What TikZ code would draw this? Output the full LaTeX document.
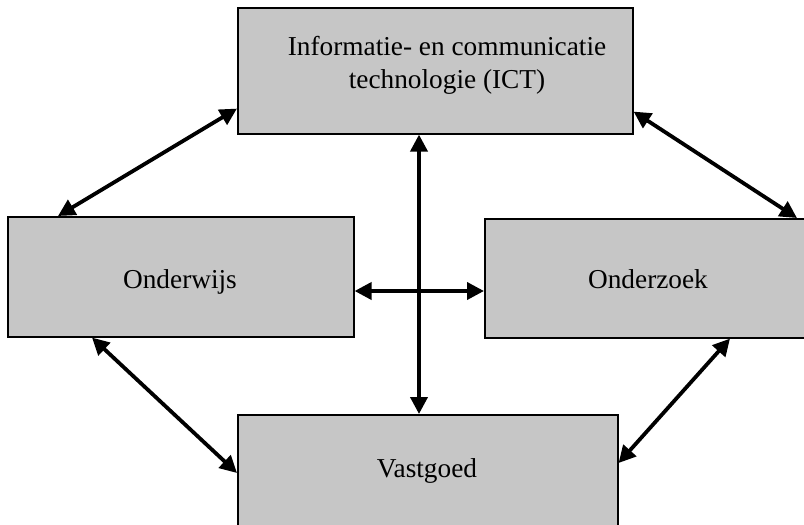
\documentclass[tikz,border=0pt]{standalone}
\usepackage{fontspec}
\setmainfont{Liberation Serif}
\usetikzlibrary{arrows.meta}
\definecolor{boxfill}{RGB}{198,198,198}
\begin{document}
\begin{tikzpicture}[x=1pt,y=-1pt,
  box/.style={draw=black, line width=1.6pt, fill=boxfill, inner sep=0pt, anchor=north west, rectangle},
  lbl/.style={font=\fontsize{27.3}{33}\selectfont, inner sep=0pt, anchor=base, align=center},
  link/.style={line width=3.8pt, {Triangle[length=17pt,width=17pt]}-{Triangle[length=17pt,width=17pt]}}]
\useasboundingbox (0,0) rectangle (804,525);
\clip (0,0) rectangle (804,525);
\node[box, minimum width=395pt, minimum height=126pt] (ict) at (237,7) {};
\node[box, minimum width=346pt, minimum height=120pt] (ow) at (7,216) {};
\node[box, minimum width=330pt, minimum height=119pt] (oz) at (484,218) {};
\node[box, minimum width=380pt, minimum height=130pt] (vg) at (237,414) {};
\node[lbl] (ictt) at (447,88) {Informatie- en communicatie\\technologie (ICT)};
\node[lbl] (owt) at (180,288) {Onderwijs};
\node[lbl] (ozt) at (648,288) {Onderzoek};
\node[lbl] (vgt) at (427,477) {Vastgoed};
\draw[link] ([yshift=26pt]ict.south west) -- ([xshift=51pt]ow.north west);
\draw[link] ([yshift=23pt]ict.south east) -- ([xshift=313pt]oz.north west);
\draw[link] ([xshift=85pt]ow.south west) -- ([yshift=-59pt]vg.north west);
\draw[link] ([xshift=246pt]oz.south west) -- ([yshift=-49pt]vg.north east);
\draw[link] ([yshift=-75pt]ow.north east) -- ([yshift=-73pt]oz.north west);
\draw[link] ([xshift=182pt]ict.south west) -- ([xshift=182pt]vg.north west);
\end{tikzpicture}
\end{document}
